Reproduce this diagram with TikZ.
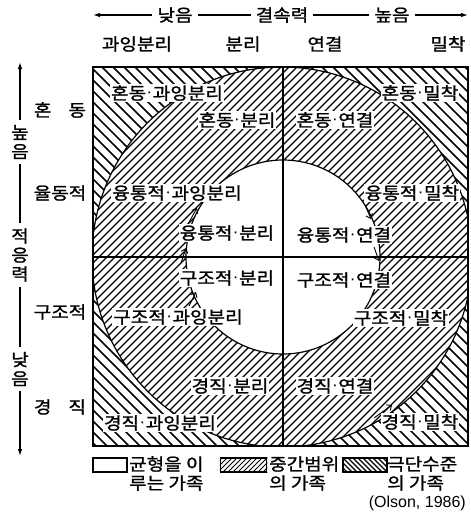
\documentclass[tikz,border=0pt]{standalone}
\usepackage{fontspec}
\setmainfont{Liberation Sans}
\newfontfamily\kr[FakeStretch=1.12,FakeBold=1.3]{Noto Sans CJK KR}
\newfontfamily\latdot{Liberation Sans}
\newcommand\mdot{{\latdot\hspace{0.5pt}\raisebox{1.8pt}{·}\hspace{0.5pt}}}
\usetikzlibrary{arrows.meta}
\begin{document}
\begin{tikzpicture}[x=1pt,y=-1pt,
  lab/.style={font=\kr\fontsize{17}{19}\selectfont, inner sep=1pt},
  inlab/.style={lab, fill=white},
  axlab/.style={lab, inner sep=5pt},
  axis/.style={line width=1.2pt},
  tipA/.style={-{Latex[length=7pt,width=4.5pt]}},
  hatchA/.style={line width=1.6pt},
  hatchB/.style={line width=1.25pt},
  ptr/.style={line width=0.9pt, -{Straight Barb[length=4pt,width=7pt]}},
  legbox/.style={draw, line width=1.5pt, minimum height=14pt, inner sep=0pt}]

\useasboundingbox (0,0) rectangle (471,522);

% --- hatched regions ---
\begin{scope}
  \clip (93,67) rectangle (468,446);
  \foreach \c in {-460,-449,...,480} \draw[hatchA] (\c,0) -- (\c+560,560);
  \fill[white] (282,257) circle (190pt);
  \begin{scope}
    \clip (282,257) circle (190pt);
    \foreach \c in {60,68,...,1000} \draw[hatchB] (\c,0) -- (\c-560,560);
  \end{scope}
  \fill[white] (283,257) circle (97pt);
  \draw[line width=1.2pt] (282,257) circle (190pt);
  \draw[line width=1.2pt] (283,257) circle (97pt);
\end{scope}

% --- frame and cross ---
\coordinate (sqA) at (93,67);
\coordinate (sqB) at (468,446);
\coordinate (vT) at (283,67);
\coordinate (vB) at (283,446);
\coordinate (hL) at (93,257);
\coordinate (hR) at (468,257);
\draw[line width=1.3pt] (vT) -- (vB);
\draw[line width=1.3pt] (hL) -- (hR);
\draw[line width=1.8pt] (sqA) rectangle (sqB);

% --- top axis ---
\node[axlab] (tlo) at (175,15) {낮음};
\node[axlab] (tmid) at (282,15) {결속력};
\node[axlab] (thi) at (392,15) {높음};
\coordinate (tL) at (93,15);
\coordinate (tR) at (468,15);
\draw[axis,tipA] (tlo.west) -- (tL);
\draw[axis] (tlo.east) -- (tmid.west);
\draw[axis] (tmid.east) -- (thi.west);
\draw[axis,tipA] (thi.east) -- (tR);

\node[lab] (c1) at (137,44) {과잉분리};
\node[lab] (c2) at (243,44) {분리};
\node[lab] (c3) at (325,44) {연결};
\node[lab] (c4) at (448,44) {밀착};

% --- left axis ---
\node[axlab, align=center] (lhi) at (20,142) {높\\음};
\node[axlab, align=center] (lmid) at (20,255) {적\\응\\력};
\node[axlab, align=center] (llo) at (20,369) {낮\\음};
\coordinate (lT) at (20,62);
\coordinate (lB) at (20,456);
\draw[axis,tipA] (lhi.north) -- (lT);
\draw[axis] (lhi.south) -- (lmid.north);
\draw[axis] (lmid.south) -- (llo.north);
\draw[axis,tipA] (llo.south) -- (lB);

\node[lab] (r1) at (60,110) {혼\hspace{1em}동};
\node[lab] (r2) at (60,193) {율동적};
\node[lab] (r3) at (60,312) {구조적};
\node[lab] (r4) at (60,407) {경\hspace{1em}직};

% --- cell labels ---
\node[inlab] (a11) at (167,93) {혼동\mdot 과잉분리};
\node[inlab] (a12) at (237,120) {혼동\mdot 분리};
\node[inlab] (a13) at (335,120) {혼동\mdot 연결};
\node[inlab] (a14) at (420,93) {혼동\mdot 밀착};
\node[inlab] (a21) at (177,193) {융통적\mdot 과잉분리};
\node[inlab] (a22) at (227,233) {융통적\mdot 분리};
\node[inlab] (a23) at (344,235) {융통적\mdot 연결};
\node[inlab] (a24) at (412,193) {융통적\mdot 밀착};
\node[inlab] (a32) at (227,278) {구조적\mdot 분리};
\node[inlab] (a33) at (344,280) {구조적\mdot 연결};
\node[inlab] (a31) at (178,317) {구조적\mdot 과잉분리};
\node[inlab] (a34) at (401,318) {구조적\mdot 밀착};
\node[inlab] (a42) at (230,386) {경직\mdot 분리};
\node[inlab] (a43) at (335,386) {경직\mdot 연결};
\node[inlab] (a41) at (160,423) {경직\mdot 과잉분리};
\node[inlab] (a44) at (420,422) {경직\mdot 밀착};

% --- small pointers ---
\coordinate (p1a) at (188,224); \coordinate (p1b) at (197,208);
\coordinate (p2a) at (181,263); \coordinate (p2b) at (186,248);
\coordinate (p3a) at (189,306); \coordinate (p3b) at (196,292);
\coordinate (p4a) at (365,205); \coordinate (p4b) at (371,219);
\coordinate (p5a) at (374,247); \coordinate (p5b) at (379,261);
\coordinate (p6a) at (374,418); \coordinate (p6b) at (392,405);
\draw[ptr] (p1a) -- (p1b);
\draw[ptr] (p2a) -- (p2b);
\draw[ptr] (p3a) -- (p3b);
\draw[ptr] (p4a) -- (p4b);
\draw[ptr] (p5a) -- (p5b);
\draw[ptr] (p6a) -- (p6b);

% --- legend ---
\node[legbox, minimum width=34pt] (lg1) at (110,465) {};
\node[lab, align=left, anchor=west] (lt1) at (128,473.5) {균형을 이\\루는 가족};
\node[legbox, minimum width=46pt] (lg2) at (243.5,465) {};
\begin{scope}
  \clip (lg2.north west) rectangle (lg2.south east);
  \foreach \c in {210,215,...,300} \draw[line width=1pt] (\c,450) -- (\c-30,480);
\end{scope}
\node[lab, align=left, anchor=west] (lt2) at (268,473.5) {중간범위\\의 가족};
\node[legbox, minimum width=44pt] (lg3) at (365,465) {};
\begin{scope}
  \clip (lg3.north west) rectangle (lg3.south east);
  \foreach \c in {310,315,...,400} \draw[line width=1.2pt] (\c,450) -- (\c+30,480);
\end{scope}
\node[lab, align=left, anchor=west] (lt3) at (386,473.5) {극단수준\\의 가족};
\node[font=\fontsize{16}{18}\selectfont, anchor=east, inner sep=1pt] (src) at (467,503) {(Olson, 1986)};
\end{tikzpicture}
\end{document}
